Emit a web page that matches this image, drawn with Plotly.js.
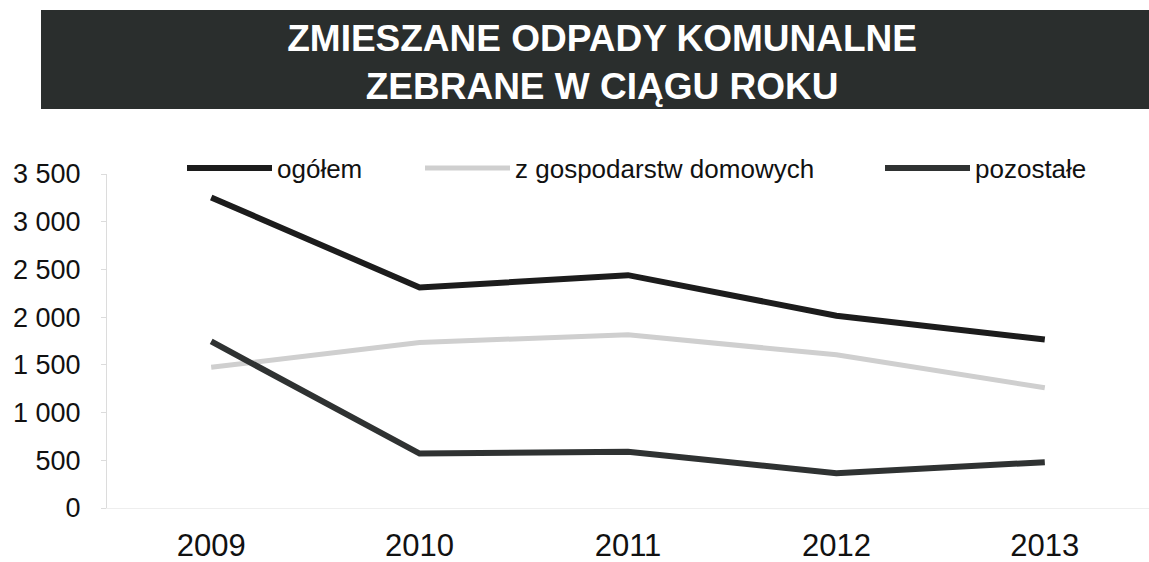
<!DOCTYPE html>
<html>
<head>
<meta charset="utf-8">
<script src="https://cdn.plot.ly/plotly-3.0.1.min.js"></script>
<style>html,body{margin:0;padding:0;background:#fff;}#chart{width:1149px;height:562px;}</style>
</head>
<body>
<div id="chart"></div>
<script>
const years = ['2009', '2010', '2011', '2012', '2013'];
const ogolem = [3255, 2310, 2440, 2015, 1765];
const zGospodarstw = [1475, 1735, 1815, 1605, 1260];
const pozostale = [1745, 570, 590, 365, 480];
const yTickVals = [0, 500, 1000, 1500, 2000, 2500, 3000, 3500];
const yTickText = ['0', '500', '1 000', '1 500', '2 000', '2 500', '3 000', '3 500'];

const FONT = 'Liberation Sans, Arial, sans-serif';

const traces = [
  {x: years, y: ogolem, name: 'ogółem', type: 'scatter', mode: 'lines',
   line: {color: '#1c1c1c', width: 6}, legend: 'legend'},
  {x: years, y: zGospodarstw, name: 'z gospodarstw domowych', type: 'scatter', mode: 'lines',
   line: {color: '#cfcfcf', width: 5}, legend: 'legend2'},
  {x: years, y: pozostale, name: 'pozostałe', type: 'scatter', mode: 'lines',
   line: {color: '#2f3232', width: 6}, legend: 'legend3'}
];

const legendBase = {
  orientation: 'h', xref: 'container', yref: 'container', xanchor: 'left', yanchor: 'middle',
  y: 1 - 168 / 562, font: {family: FONT, size: 26, color: '#111'}, bgcolor: 'rgba(0,0,0,0)',
  borderwidth: 0, itemwidth: 85
};

const layout = {
  width: 1149, height: 562,
  paper_bgcolor: '#ffffff', plot_bgcolor: '#ffffff',
  margin: {l: 107, r: 0, t: 174, b: 54, autoexpand: false},
  font: {family: FONT, color: '#111'},
  title: {
    text: 'ZMIESZANE ODPADY KOMUNALNE<br>ZEBRANE W CIĄGU ROKU',
    font: {family: FONT, size: 37, color: '#ffffff', weight: 'bold'},
    xref: 'container', yref: 'container', x: 0.524, xanchor: 'center',
    y: 1 - 51 / 562, yanchor: 'middle'
  },
  showlegend: true,
  legend: Object.assign({}, legendBase, {x: 182 / 1149}),
  legend2: Object.assign({}, legendBase, {x: 420 / 1149}),
  legend3: Object.assign({}, legendBase, {x: 880 / 1149}),
  xaxis: {
    type: 'category', range: [-0.5, 4.5],
    showgrid: false, zeroline: false, showline: true, linecolor: '#eeeeee', linewidth: 1,
    ticks: '', tickfont: {family: FONT, size: 31, color: '#111'}, ticklabelstandoff: 10
  },
  yaxis: {
    range: [0, 3500], tickvals: yTickVals, ticktext: yTickText,
    showgrid: false, zeroline: false, showline: true, linecolor: '#dcdcdc', linewidth: 1,
    ticks: 'outside', ticklen: 5, tickcolor: '#dcdcdc',
    tickfont: {family: FONT, size: 27, color: '#111'}, ticklabelstandoff: 15
  },
  shapes: [{
    type: 'rect', xref: 'paper', yref: 'paper', layer: 'below',
    x0: (41 - 107) / 1042, x1: (1149 - 107) / 1042,
    y0: (508 - 109) / 334, y1: (508 - 10) / 334,
    fillcolor: '#2a2e2d', line: {width: 0}
  }]
};

Plotly.newPlot('chart', traces, layout, {displayModeBar: false, staticPlot: true});
</script>
</body>
</html>
